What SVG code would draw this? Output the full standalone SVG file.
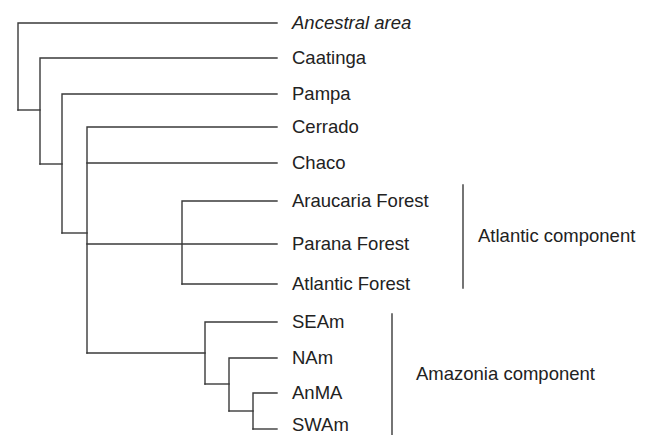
<svg xmlns="http://www.w3.org/2000/svg" width="649" height="435" viewBox="0 0 649 435">
<style>
.e{fill:none;stroke:#3a3a3a;stroke-width:1.4;stroke-linecap:square}
.t{font-family:"Liberation Sans",Arial,sans-serif;font-size:18.5px;fill:#222}
.i{font-style:italic}
</style>
<rect width="649" height="435" fill="#fff"/>
<g id="connectors">
<path class="e" d="M18,110 V23 H277"/>
<path class="e" d="M18,110 H40"/>
<path class="e" d="M40,164 V58 H277"/>
<path class="e" d="M40,164 H62"/>
<path class="e" d="M62,233 V94 H277"/>
<path class="e" d="M62,233 H87"/>
<path class="e" d="M87,353 V127 H277"/>
<path class="e" d="M87,163 H277"/>
<path class="e" d="M87,244 H277"/>
<path class="e" d="M182,284 V201 H277"/>
<path class="e" d="M182,284 H277"/>
<path class="e" d="M87,353 H205"/>
<path class="e" d="M205,384 V322 H277"/>
<path class="e" d="M205,384 H229"/>
<path class="e" d="M229,411 V358 H277"/>
<path class="e" d="M229,411 H253"/>
<path class="e" d="M253,429 V393 H277"/>
<path class="e" d="M253,429 H277"/>
<path class="e" d="M463,185 V288"/>
<path class="e" d="M392,314 V435"/>
</g>
<g id="ancestral"><text class="t i" x="292" y="29">Ancestral area</text></g>
<g id="caatinga"><text class="t" x="292" y="64">Caatinga</text></g>
<g id="pampa"><text class="t" x="292" y="100">Pampa</text></g>
<g id="cerrado"><text class="t" x="292" y="133">Cerrado</text></g>
<g id="chaco"><text class="t" x="292" y="169">Chaco</text></g>
<g id="araucaria"><text class="t" x="292" y="207">Araucaria Forest</text></g>
<g id="parana"><text class="t" x="292" y="250">Parana Forest</text></g>
<g id="atlantic"><text class="t" x="292" y="290">Atlantic Forest</text></g>
<g id="seam"><text class="t" x="292" y="328">SEAm</text></g>
<g id="nam"><text class="t" x="292" y="364">NAm</text></g>
<g id="anma"><text class="t" x="292" y="399">AnMA</text></g>
<g id="swam"><text class="t" x="292" y="431">SWAm</text></g>
<g id="atlantic-component"><text class="t" x="478" y="242">Atlantic component</text></g>
<g id="amazonia-component"><text class="t" x="416" y="380">Amazonia component</text></g>
</svg>
